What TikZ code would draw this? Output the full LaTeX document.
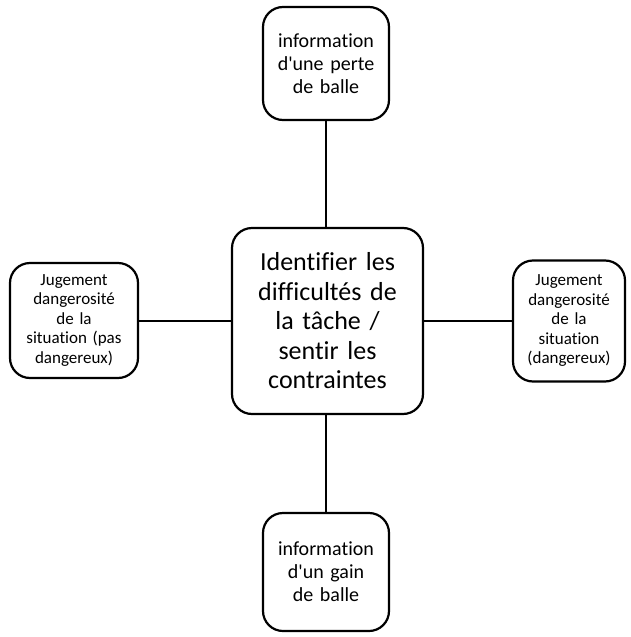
\documentclass[tikz,border=0pt]{standalone}
\usepackage{fontspec}
\setmainfont{Carlito}[Ligatures={NoCommon}]
\begin{document}
\begin{tikzpicture}[x=1pt,y=-1pt,
  box/.style={draw, line width=2.2pt, rounded corners=20pt, align=center, inner sep=3pt},
  link/.style={line width=2pt}]
\useasboundingbox (0,0) rectangle (631,637);
\node[box, minimum width=126pt, minimum height=113pt, text width=118pt, font=\fontsize{20}{23}\selectfont] (perte) at (326,63.5) {information\\d\textquotesingle une perte\\de balle};
\node[box, minimum width=191pt, minimum height=186pt, text width=182pt, font=\fontsize{26}{29.5}\selectfont] (centre) at (327.5,321) {Identifier les\\difficultés de\\la tâche /\\sentir les\\contraintes};
\node[box, minimum width=128pt, minimum height=115pt, text width=120pt, font=\fontsize{17}{19.5}\selectfont] (pasdanger) at (74,320.5) {Jugement\\dangerosité\\de la\\situation (pas\\dangereux)};
\node[box, minimum width=112pt, minimum height=121pt, text width=106pt, font=\fontsize{17}{19.5}\selectfont] (danger) at (569,321) {Jugement\\dangerosité\\de la\\situation\\(dangereux)};
\node[box, minimum width=126pt, minimum height=118pt, text width=118pt, font=\fontsize{20}{23}\selectfont] (gain) at (326,572) {information\\d\textquotesingle un gain\\de balle};
\draw[link] (perte.south) -- (perte.south |- centre.north);
\draw[link] (gain.north) -- (gain.north |- centre.south);
\draw[link] (pasdanger.east) -- (pasdanger.east -| centre.west);
\draw[link] (danger.west) -- (danger.west -| centre.east);
\end{tikzpicture}
\end{document}
